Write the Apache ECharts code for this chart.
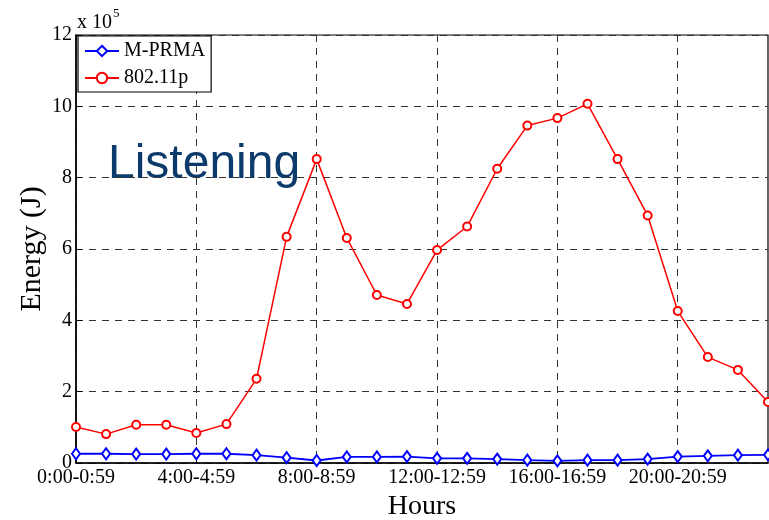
<!DOCTYPE html>
<html><head><meta charset="utf-8">
<script src="https://cdn.jsdelivr.net/npm/echarts@6/dist/echarts.min.js"></script>
<style>html,body{margin:0;padding:0;background:#fff}#c{width:769px;height:520px}</style>
</head><body><div id="c"></div>
<script>
const hours = ["0:00-0:59","1:00-1:59","2:00-2:59","3:00-3:59","4:00-4:59","5:00-5:59","6:00-6:59","7:00-7:59","8:00-8:59","9:00-9:59","10:00-10:59","11:00-11:59","12:00-12:59","13:00-13:59","14:00-14:59","15:00-15:59","16:00-16:59","17:00-17:59","18:00-18:59","19:00-19:59","20:00-20:59","21:00-21:59","22:00-22:59","23:00-23:59"];
const mprma = [0.26,0.26,0.25,0.25,0.26,0.26,0.22,0.15,0.07,0.17,0.17,0.18,0.13,0.13,0.11,0.08,0.06,0.08,0.08,0.11,0.18,0.20,0.22,0.23];
const p80211 = [1.01,0.81,1.07,1.07,0.84,1.09,2.36,6.34,8.52,6.31,4.71,4.46,5.97,6.63,8.25,9.46,9.67,10.07,8.52,6.94,4.26,2.97,2.61,1.71];
const yTicks = [0,2,4,6,8,10,12];

const serif = 'Liberation Serif';
const chart = echarts.init(document.getElementById('c'));
chart.setOption({
  animation: false,
  backgroundColor: '#fff',
  grid: {left: 76, right: 1, top: 35, bottom: 57, show: true, borderColor: '#000', borderWidth: 1.2,
    containLabel: false, outerBoundsMode: 'none'},
  legend: {
    orient: 'vertical', left: 78, top: 36,
    backgroundColor: '#fff', borderColor: '#000', borderWidth: 1.2,
    padding: [5, 6, 4, 6], itemGap: 7, itemWidth: 34, itemHeight: 13,
    textStyle: {fontFamily: serif, fontSize: 20, color: '#000'},
    data: ['M-PRMA', '802.11p']
  },
  xAxis: {
    type: 'category', data: hours, boundaryGap: false,
    name: 'Hours', nameLocation: 'middle', nameGap: 30, nameMoveOverlap: false,
    nameTextStyle: {fontFamily: serif, fontSize: 28, color: '#000'},
    axisLine: {lineStyle: {color: '#000', width: 1.5}},
    axisTick: {show: true, inside: true, interval: 3, length: 6, lineStyle: {color: '#000'}},
    axisLabel: {interval: 3, fontFamily: serif, fontSize: 20, color: '#000', margin: 5},
    splitLine: {show: true, interval: 3, lineStyle: {color: '#333', type: [7, 6], width: 1}}
  },
  yAxis: {
    type: 'value', min: 0, max: 12, interval: 2,
    name: 'Energy (J)', nameLocation: 'middle', nameGap: 29, nameMoveOverlap: false,
    nameTextStyle: {fontFamily: serif, fontSize: 30, color: '#000'},
    axisLine: {show: true, lineStyle: {color: '#000', width: 1.5}},
    axisTick: {show: true, inside: true, length: 6, lineStyle: {color: '#000'}},
    axisLabel: {fontFamily: serif, fontSize: 20, color: '#000', margin: 4,
      formatter: v => yTicks.includes(v) ? String(v) : ''},
    splitLine: {show: true, lineStyle: {color: '#333', type: [7, 6], width: 1}}
  },
  graphic: [
    {type: 'text', left: 77, top: 7, style: {
      text: '{a|x 10}{b|5}', rich: {
        a: {fontFamily: serif, fontSize: 20, color: '#000', verticalAlign: 'bottom', padding: [6,0,0,0]},
        b: {fontFamily: serif, fontSize: 13, color: '#000', verticalAlign: 'top', padding: [0,0,10,1]}
      }}},
    {type: 'text', left: 108, top: 141, style: {
      text: 'Listening', fontFamily: 'Liberation Sans', fontSize: 48, fill: '#0b3a6b'}}
  ],
  series: [
    {name: 'M-PRMA', type: 'line', data: mprma, symbol: 'emptyDiamond', symbolSize: [8, 11],
      lineStyle: {color: '#0000ff', width: 1.8}, itemStyle: {color: '#0000ff', borderWidth: 1.5}, z: 3},
    {name: '802.11p', type: 'line', data: p80211, symbol: 'emptyCircle', symbolSize: 8,
      lineStyle: {color: '#ff0000', width: 1.5}, itemStyle: {color: '#ff0000', borderWidth: 1.5}, z: 2}
  ]
});
</script></body></html>
